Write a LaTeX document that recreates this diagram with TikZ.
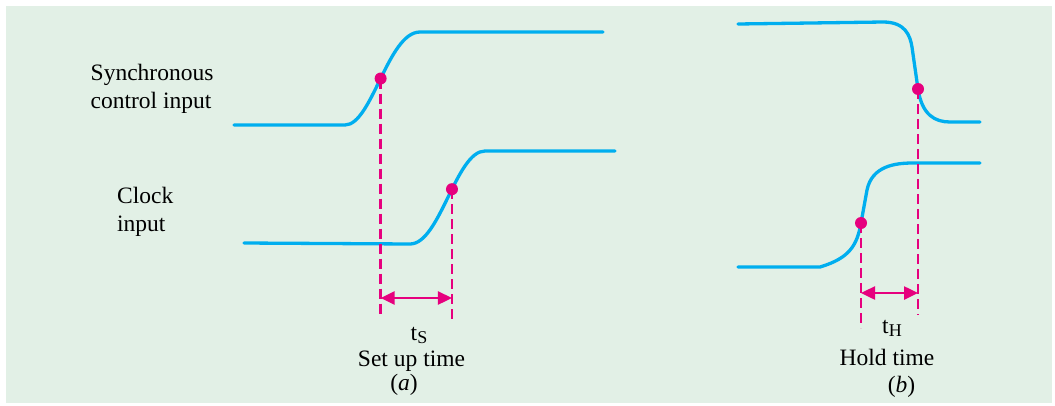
\documentclass[tikz,border=0pt]{standalone}
\usepackage{fontspec}
\setmainfont{Liberation Serif}
\usetikzlibrary{arrows.meta}
\definecolor{bggreen}{RGB}{226,240,230}
\definecolor{wavecyan}{RGB}{0,174,239}
\definecolor{mag}{RGB}{230,0,126}
\tikzset{
  wave/.style={draw=wavecyan,line width=3.3pt,line cap=round,line join=round},
  guide/.style={draw=mag,line width=2.3pt,dash pattern=on 10pt off 5pt},
  span/.style={draw=mag,line width=2.5pt,{Triangle[length=14pt,width=13pt]}-{Triangle[length=14pt,width=13pt]}},
  dot/.style={circle,fill=mag,inner sep=0pt,minimum size=12pt},
  lbl/.style={inner sep=0pt,font=\fontsize{23.5}{28}\selectfont},
}
\begin{document}
\begin{tikzpicture}[x=1pt,y=-1pt]
\useasboundingbox (0,0) rectangle (1055,405);
\fill[bggreen] (6,6) rectangle (1052,403);
% (a) synchronous control input
\path[wave] (234,125) -- (345,125) .. controls (372,125) and (388,32) .. coordinate[pos=0.5] (da1) (420,32) -- (603,32);
% (a) clock input
\path[wave] (244,243) -- (410,244) .. controls (440,244) and (456,151) .. coordinate[pos=0.56] (da2) (485,151) -- (615,151);
% (b) synchronous control input
\path[wave] (738,24) -- (883,22) .. controls (905,22) and (910,35) .. (912,47) -- coordinate[pos=1] (db1) (918,89) .. controls (922,115) and (935,122) .. (950,122) -- (980,122);
% (b) clock input
\path[wave] (738,267) -- (820,267) .. controls (850,258) and (857,245) .. coordinate[pos=1] (db2) (861,223) -- (867,190) .. controls (872,166) and (895,163) .. (913,163) -- (980,163);
% guides (a)
\coordinate (ea1) at (da1 |- 0,318);
\coordinate (ea2) at (da2 |- 0,321);
\path[guide] (da1) -- (ea1);
\path[guide] (da2) -- (ea2);
\coordinate (sa1) at (da1 |- 0,298);
\coordinate (sa2) at (da2 |- 0,298);
\path[span] (sa1) -- (sa2);
% guides (b)
\coordinate (eb2) at (db2 |- 0,328);
\coordinate (eb1) at (db1 |- 0,315);
\path[guide] (db2) -- (eb2);
\path[guide] (db1) -- (eb1);
\coordinate (sb2) at (db2 |- 0,293);
\coordinate (sb1) at (db1 |- 0,293);
\path[span] (sb2) -- (sb1);
% dots
\node[dot] (pa1) at (da1) {};
\node[dot] (pa2) at (da2) {};
\node[dot] (pb1) at (db1) {};
\node[dot] (pb2) at (db2) {};
% labels
\node[lbl,anchor=base west] (l1) at (90.5,80) {Synchronous};
\node[lbl,anchor=base west] (l2) at (90.5,108) {control input};
\node[lbl,anchor=base west] (l3) at (117,203) {Clock};
\node[lbl,anchor=base west] (l4) at (117,231) {input};
\node[lbl,anchor=base] (ts) at (419,340) {t\raisebox{-0.3ex}{\fontsize{18}{18}\selectfont S}};
\node[lbl,anchor=base] (st) at (411.5,366) {Set up time};
\node[lbl,anchor=base] (ca) at (404,390) {(\textit{a})};
\node[lbl,anchor=base] (th) at (892,333) {t\raisebox{-0.3ex}{\fontsize{18}{18}\selectfont H}};
\node[lbl,anchor=base] (ht) at (887,365) {Hold time};
\node[lbl,anchor=base] (cb) at (901.5,392) {(\textit{b})};
\end{tikzpicture}
\end{document}
